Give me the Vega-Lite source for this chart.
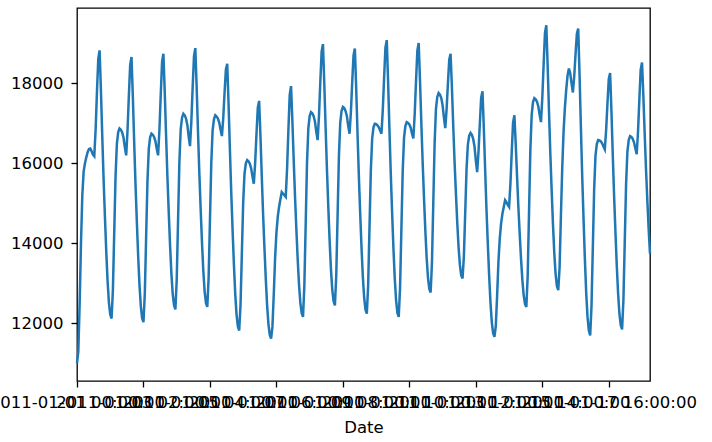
{
"$schema": "https://vega.github.io/schema/vega-lite/v6.json",
"width": 573, "height": 373, "autosize": "none",
"padding": {"left": 77, "top": 8, "right": 62, "bottom": 61},
"background": "white",
"config": {"view": {"stroke": "#000", "strokeWidth": 1.3}, "font": "DejaVu Sans"},
"data": {"values": [
{"Date":"2011-01-01T00:00","Load":11000},{"Date":"2011-01-01T01:00","Load":11300},{"Date":"2011-01-01T02:00","Load":12500},{"Date":"2011-01-01T03:00","Load":14000},{"Date":"2011-01-01T04:00","Load":15200},{"Date":"2011-01-01T05:00","Load":15800},{"Date":"2011-01-01T06:00","Load":16000},{"Date":"2011-01-01T07:00","Load":16150},{"Date":"2011-01-01T08:00","Load":16280},{"Date":"2011-01-01T09:00","Load":16360},{"Date":"2011-01-01T10:00","Load":16370},{"Date":"2011-01-01T11:00","Load":16300},{"Date":"2011-01-01T12:00","Load":16220},{"Date":"2011-01-01T13:00","Load":16180},{"Date":"2011-01-01T14:00","Load":16840},{"Date":"2011-01-01T15:00","Load":17770},{"Date":"2011-01-01T16:00","Load":18610},{"Date":"2011-01-01T17:00","Load":18825},{"Date":"2011-01-01T18:00","Load":17820},{"Date":"2011-01-01T19:00","Load":16680},{"Date":"2011-01-01T20:00","Load":15610},{"Date":"2011-01-01T21:00","Load":14670},{"Date":"2011-01-01T22:00","Load":13800},{"Date":"2011-01-01T23:00","Load":13060},
{"Date":"2011-01-02T00:00","Load":12520},{"Date":"2011-01-02T01:00","Load":12220},{"Date":"2011-01-02T02:00","Load":12120},{"Date":"2011-01-02T03:00","Load":12830},{"Date":"2011-01-02T04:00","Load":14260},{"Date":"2011-01-02T05:00","Load":15680},{"Date":"2011-01-02T06:00","Load":16490},{"Date":"2011-01-02T07:00","Load":16780},{"Date":"2011-01-02T08:00","Load":16870},{"Date":"2011-01-02T09:00","Load":16840},{"Date":"2011-01-02T10:00","Load":16770},{"Date":"2011-01-02T11:00","Load":16640},{"Date":"2011-01-02T12:00","Load":16400},{"Date":"2011-01-02T13:00","Load":16200},{"Date":"2011-01-02T14:00","Load":16820},{"Date":"2011-01-02T15:00","Load":17680},{"Date":"2011-01-02T16:00","Load":18460},{"Date":"2011-01-02T17:00","Load":18660},{"Date":"2011-01-02T18:00","Load":17670},{"Date":"2011-01-02T19:00","Load":16540},{"Date":"2011-01-02T20:00","Load":15480},{"Date":"2011-01-02T21:00","Load":14550},{"Date":"2011-01-02T22:00","Load":13690},{"Date":"2011-01-02T23:00","Load":12960},
{"Date":"2011-01-03T00:00","Load":12430},{"Date":"2011-01-03T01:00","Load":12130},{"Date":"2011-01-03T02:00","Load":12030},{"Date":"2011-01-03T03:00","Load":12740},{"Date":"2011-01-03T04:00","Load":14150},{"Date":"2011-01-03T05:00","Load":15560},{"Date":"2011-01-03T06:00","Load":16360},{"Date":"2011-01-03T07:00","Load":16650},{"Date":"2011-01-03T08:00","Load":16740},{"Date":"2011-01-03T09:00","Load":16710},{"Date":"2011-01-03T10:00","Load":16660},{"Date":"2011-01-03T11:00","Load":16550},{"Date":"2011-01-03T12:00","Load":16360},{"Date":"2011-01-03T13:00","Load":16200},{"Date":"2011-01-03T14:00","Load":16840},{"Date":"2011-01-03T15:00","Load":17720},{"Date":"2011-01-03T16:00","Load":18540},{"Date":"2011-01-03T17:00","Load":18740},{"Date":"2011-01-03T18:00","Load":17780},{"Date":"2011-01-03T19:00","Load":16700},{"Date":"2011-01-03T20:00","Load":15670},{"Date":"2011-01-03T21:00","Load":14780},{"Date":"2011-01-03T22:00","Load":13950},{"Date":"2011-01-03T23:00","Load":13250},
{"Date":"2011-01-04T00:00","Load":12730},{"Date":"2011-01-04T01:00","Load":12450},{"Date":"2011-01-04T02:00","Load":12350},{"Date":"2011-01-04T03:00","Load":13080},{"Date":"2011-01-04T04:00","Load":14550},{"Date":"2011-01-04T05:00","Load":16020},{"Date":"2011-01-04T06:00","Load":16850},{"Date":"2011-01-04T07:00","Load":17140},{"Date":"2011-01-04T08:00","Load":17240},{"Date":"2011-01-04T09:00","Load":17200},{"Date":"2011-01-04T10:00","Load":17120},{"Date":"2011-01-04T11:00","Load":16960},{"Date":"2011-01-04T12:00","Load":16670},{"Date":"2011-01-04T13:00","Load":16430},{"Date":"2011-01-04T14:00","Load":17040},{"Date":"2011-01-04T15:00","Load":17900},{"Date":"2011-01-04T16:00","Load":18680},{"Date":"2011-01-04T17:00","Load":18880},{"Date":"2011-01-04T18:00","Load":17910},{"Date":"2011-01-04T19:00","Load":16810},{"Date":"2011-01-04T20:00","Load":15770},{"Date":"2011-01-04T21:00","Load":14870},{"Date":"2011-01-04T22:00","Load":14030},{"Date":"2011-01-04T23:00","Load":13320},
{"Date":"2011-01-05T00:00","Load":12800},{"Date":"2011-01-05T01:00","Load":12510},{"Date":"2011-01-05T02:00","Load":12410},{"Date":"2011-01-05T03:00","Load":13130},{"Date":"2011-01-05T04:00","Load":14570},{"Date":"2011-01-05T05:00","Load":16000},{"Date":"2011-01-05T06:00","Load":16820},{"Date":"2011-01-05T07:00","Load":17100},{"Date":"2011-01-05T08:00","Load":17200},{"Date":"2011-01-05T09:00","Load":17170},{"Date":"2011-01-05T10:00","Load":17120},{"Date":"2011-01-05T11:00","Load":17020},{"Date":"2011-01-05T12:00","Load":16840},{"Date":"2011-01-05T13:00","Load":16680},{"Date":"2011-01-05T14:00","Load":17130},{"Date":"2011-01-05T15:00","Load":17770},{"Date":"2011-01-05T16:00","Load":18350},{"Date":"2011-01-05T17:00","Load":18490},{"Date":"2011-01-05T18:00","Load":17490},{"Date":"2011-01-05T19:00","Load":16360},{"Date":"2011-01-05T20:00","Load":15290},{"Date":"2011-01-05T21:00","Load":14360},{"Date":"2011-01-05T22:00","Load":13490},{"Date":"2011-01-05T23:00","Load":12750},
{"Date":"2011-01-06T00:00","Load":12220},{"Date":"2011-01-06T01:00","Load":11920},{"Date":"2011-01-06T02:00","Load":11820},{"Date":"2011-01-06T03:00","Load":12460},{"Date":"2011-01-06T04:00","Load":13740},{"Date":"2011-01-06T05:00","Load":15020},{"Date":"2011-01-06T06:00","Load":15740},{"Date":"2011-01-06T07:00","Load":16000},{"Date":"2011-01-06T08:00","Load":16080},{"Date":"2011-01-06T09:00","Load":16050},{"Date":"2011-01-06T10:00","Load":15990},{"Date":"2011-01-06T11:00","Load":15870},{"Date":"2011-01-06T12:00","Load":15670},{"Date":"2011-01-06T13:00","Load":15490},{"Date":"2011-01-06T14:00","Load":16010},{"Date":"2011-01-06T15:00","Load":16730},{"Date":"2011-01-06T16:00","Load":17390},{"Date":"2011-01-06T17:00","Load":17560},{"Date":"2011-01-06T18:00","Load":16670},{"Date":"2011-01-06T19:00","Load":15660},{"Date":"2011-01-06T20:00","Load":14710},{"Date":"2011-01-06T21:00","Load":13880},{"Date":"2011-01-06T22:00","Load":13110},{"Date":"2011-01-06T23:00","Load":12450},
{"Date":"2011-01-07T00:00","Load":11980},{"Date":"2011-01-07T01:00","Load":11710},{"Date":"2011-01-07T02:00","Load":11620},{"Date":"2011-01-07T03:00","Load":11910},{"Date":"2011-01-07T04:00","Load":12720},{"Date":"2011-01-07T05:00","Load":13630},{"Date":"2011-01-07T06:00","Load":14260},{"Date":"2011-01-07T07:00","Load":14660},{"Date":"2011-01-07T08:00","Load":14910},{"Date":"2011-01-07T09:00","Load":15100},{"Date":"2011-01-07T10:00","Load":15280},{"Date":"2011-01-07T11:00","Load":15240},{"Date":"2011-01-07T12:00","Load":15200},{"Date":"2011-01-07T13:00","Load":15160},{"Date":"2011-01-07T14:00","Load":15850},{"Date":"2011-01-07T15:00","Load":16820},{"Date":"2011-01-07T16:00","Load":17710},{"Date":"2011-01-07T17:00","Load":17930},{"Date":"2011-01-07T18:00","Load":17060},{"Date":"2011-01-07T19:00","Load":16080},{"Date":"2011-01-07T20:00","Load":15160},{"Date":"2011-01-07T21:00","Load":14350},{"Date":"2011-01-07T22:00","Load":13600},{"Date":"2011-01-07T23:00","Load":12970},
{"Date":"2011-01-08T00:00","Load":12510},{"Date":"2011-01-08T01:00","Load":12250},{"Date":"2011-01-08T02:00","Load":12160},{"Date":"2011-01-08T03:00","Load":12930},{"Date":"2011-01-08T04:00","Load":14460},{"Date":"2011-01-08T05:00","Load":16000},{"Date":"2011-01-08T06:00","Load":16870},{"Date":"2011-01-08T07:00","Load":17180},{"Date":"2011-01-08T08:00","Load":17280},{"Date":"2011-01-08T09:00","Load":17250},{"Date":"2011-01-08T10:00","Load":17180},{"Date":"2011-01-08T11:00","Load":17040},{"Date":"2011-01-08T12:00","Load":16790},{"Date":"2011-01-08T13:00","Load":16580},{"Date":"2011-01-08T14:00","Load":17180},{"Date":"2011-01-08T15:00","Load":18020},{"Date":"2011-01-08T16:00","Load":18790},{"Date":"2011-01-08T17:00","Load":18980},{"Date":"2011-01-08T18:00","Load":18000},{"Date":"2011-01-08T19:00","Load":16890},{"Date":"2011-01-08T20:00","Load":15850},{"Date":"2011-01-08T21:00","Load":14930},{"Date":"2011-01-08T22:00","Load":14080},{"Date":"2011-01-08T23:00","Load":13360},
{"Date":"2011-01-09T00:00","Load":12840},{"Date":"2011-01-09T01:00","Load":12550},{"Date":"2011-01-09T02:00","Load":12450},{"Date":"2011-01-09T03:00","Load":13190},{"Date":"2011-01-09T04:00","Load":14680},{"Date":"2011-01-09T05:00","Load":16170},{"Date":"2011-01-09T06:00","Load":17010},{"Date":"2011-01-09T07:00","Load":17310},{"Date":"2011-01-09T08:00","Load":17410},{"Date":"2011-01-09T09:00","Load":17380},{"Date":"2011-01-09T10:00","Load":17310},{"Date":"2011-01-09T11:00","Load":17180},{"Date":"2011-01-09T12:00","Load":16940},{"Date":"2011-01-09T13:00","Load":16740},{"Date":"2011-01-09T14:00","Load":17270},{"Date":"2011-01-09T15:00","Load":18020},{"Date":"2011-01-09T16:00","Load":18700},{"Date":"2011-01-09T17:00","Load":18870},{"Date":"2011-01-09T18:00","Load":17880},{"Date":"2011-01-09T19:00","Load":16750},{"Date":"2011-01-09T20:00","Load":15690},{"Date":"2011-01-09T21:00","Load":14760},{"Date":"2011-01-09T22:00","Load":13900},{"Date":"2011-01-09T23:00","Load":13170},
{"Date":"2011-01-10T00:00","Load":12640},{"Date":"2011-01-10T01:00","Load":12340},{"Date":"2011-01-10T02:00","Load":12240},{"Date":"2011-01-10T03:00","Load":12950},{"Date":"2011-01-10T04:00","Load":14380},{"Date":"2011-01-10T05:00","Load":15800},{"Date":"2011-01-10T06:00","Load":16610},{"Date":"2011-01-10T07:00","Load":16900},{"Date":"2011-01-10T08:00","Load":16990},{"Date":"2011-01-10T09:00","Load":16980},{"Date":"2011-01-10T10:00","Load":16950},{"Date":"2011-01-10T11:00","Load":16900},{"Date":"2011-01-10T12:00","Load":16820},{"Date":"2011-01-10T13:00","Load":16740},{"Date":"2011-01-10T14:00","Load":17330},{"Date":"2011-01-10T15:00","Load":18140},{"Date":"2011-01-10T16:00","Load":18890},{"Date":"2011-01-10T17:00","Load":19080},{"Date":"2011-01-10T18:00","Load":18040},{"Date":"2011-01-10T19:00","Load":16870},{"Date":"2011-01-10T20:00","Load":15760},{"Date":"2011-01-10T21:00","Load":14790},{"Date":"2011-01-10T22:00","Load":13890},{"Date":"2011-01-10T23:00","Load":13130},
{"Date":"2011-01-11T00:00","Load":12580},{"Date":"2011-01-11T01:00","Load":12260},{"Date":"2011-01-11T02:00","Load":12160},{"Date":"2011-01-11T03:00","Load":12890},{"Date":"2011-01-11T04:00","Load":14350},{"Date":"2011-01-11T05:00","Load":15810},{"Date":"2011-01-11T06:00","Load":16640},{"Date":"2011-01-11T07:00","Load":16930},{"Date":"2011-01-11T08:00","Load":17030},{"Date":"2011-01-11T09:00","Load":17010},{"Date":"2011-01-11T10:00","Load":16970},{"Date":"2011-01-11T11:00","Load":16890},{"Date":"2011-01-11T12:00","Load":16740},{"Date":"2011-01-11T13:00","Load":16620},{"Date":"2011-01-11T14:00","Load":17220},{"Date":"2011-01-11T15:00","Load":18050},{"Date":"2011-01-11T16:00","Load":18820},{"Date":"2011-01-11T17:00","Load":19010},{"Date":"2011-01-11T18:00","Load":18070},{"Date":"2011-01-11T19:00","Load":17010},{"Date":"2011-01-11T20:00","Load":16020},{"Date":"2011-01-11T21:00","Load":15140},{"Date":"2011-01-11T22:00","Load":14330},{"Date":"2011-01-11T23:00","Load":13640},
{"Date":"2011-01-12T00:00","Load":13140},{"Date":"2011-01-12T01:00","Load":12860},{"Date":"2011-01-12T02:00","Load":12770},{"Date":"2011-01-12T03:00","Load":13520},{"Date":"2011-01-12T04:00","Load":15020},{"Date":"2011-01-12T05:00","Load":16510},{"Date":"2011-01-12T06:00","Load":17360},{"Date":"2011-01-12T07:00","Load":17660},{"Date":"2011-01-12T08:00","Load":17760},{"Date":"2011-01-12T09:00","Load":17720},{"Date":"2011-01-12T10:00","Load":17630},{"Date":"2011-01-12T11:00","Load":17450},{"Date":"2011-01-12T12:00","Load":17140},{"Date":"2011-01-12T13:00","Load":16880},{"Date":"2011-01-12T14:00","Load":17350},{"Date":"2011-01-12T15:00","Load":18000},{"Date":"2011-01-12T16:00","Load":18590},{"Date":"2011-01-12T17:00","Load":18740},{"Date":"2011-01-12T18:00","Load":17900},{"Date":"2011-01-12T19:00","Load":16940},{"Date":"2011-01-12T20:00","Load":16040},{"Date":"2011-01-12T21:00","Load":15260},{"Date":"2011-01-12T22:00","Load":14530},{"Date":"2011-01-12T23:00","Load":13910},
{"Date":"2011-01-13T00:00","Load":13460},{"Date":"2011-01-13T01:00","Load":13200},{"Date":"2011-01-13T02:00","Load":13120},{"Date":"2011-01-13T03:00","Load":13670},{"Date":"2011-01-13T04:00","Load":14760},{"Date":"2011-01-13T05:00","Load":15850},{"Date":"2011-01-13T06:00","Load":16470},{"Date":"2011-01-13T07:00","Load":16690},{"Date":"2011-01-13T08:00","Load":16760},{"Date":"2011-01-13T09:00","Load":16710},{"Date":"2011-01-13T10:00","Load":16610},{"Date":"2011-01-13T11:00","Load":16420},{"Date":"2011-01-13T12:00","Load":16070},{"Date":"2011-01-13T13:00","Load":15780},{"Date":"2011-01-13T14:00","Load":16290},{"Date":"2011-01-13T15:00","Load":16990},{"Date":"2011-01-13T16:00","Load":17640},{"Date":"2011-01-13T17:00","Load":17800},{"Date":"2011-01-13T18:00","Load":16880},{"Date":"2011-01-13T19:00","Load":15840},{"Date":"2011-01-13T20:00","Load":14850},{"Date":"2011-01-13T21:00","Load":13990},{"Date":"2011-01-13T22:00","Load":13200},{"Date":"2011-01-13T23:00","Load":12520},
{"Date":"2011-01-14T00:00","Load":12030},{"Date":"2011-01-14T01:00","Load":11750},{"Date":"2011-01-14T02:00","Load":11660},{"Date":"2011-01-14T03:00","Load":11930},{"Date":"2011-01-14T04:00","Load":12690},{"Date":"2011-01-14T05:00","Load":13540},{"Date":"2011-01-14T06:00","Load":14120},{"Date":"2011-01-14T07:00","Load":14500},{"Date":"2011-01-14T08:00","Load":14740},{"Date":"2011-01-14T09:00","Load":14910},{"Date":"2011-01-14T10:00","Load":15080},{"Date":"2011-01-14T11:00","Load":15030},{"Date":"2011-01-14T12:00","Load":14960},{"Date":"2011-01-14T13:00","Load":14910},{"Date":"2011-01-14T14:00","Load":15480},{"Date":"2011-01-14T15:00","Load":16280},{"Date":"2011-01-14T16:00","Load":17020},{"Date":"2011-01-14T17:00","Load":17200},{"Date":"2011-01-14T18:00","Load":16480},{"Date":"2011-01-14T19:00","Load":15670},{"Date":"2011-01-14T20:00","Load":14900},{"Date":"2011-01-14T21:00","Load":14230},{"Date":"2011-01-14T22:00","Load":13610},{"Date":"2011-01-14T23:00","Load":13080},
{"Date":"2011-01-15T00:00","Load":12700},{"Date":"2011-01-15T01:00","Load":12480},{"Date":"2011-01-15T02:00","Load":12410},{"Date":"2011-01-15T03:00","Load":13190},{"Date":"2011-01-15T04:00","Load":14760},{"Date":"2011-01-15T05:00","Load":16330},{"Date":"2011-01-15T06:00","Load":17210},{"Date":"2011-01-15T07:00","Load":17530},{"Date":"2011-01-15T08:00","Load":17630},{"Date":"2011-01-15T09:00","Load":17600},{"Date":"2011-01-15T10:00","Load":17540},{"Date":"2011-01-15T11:00","Load":17420},{"Date":"2011-01-15T12:00","Load":17210},{"Date":"2011-01-15T13:00","Load":17030},{"Date":"2011-01-15T14:00","Load":17640},{"Date":"2011-01-15T15:00","Load":18480},{"Date":"2011-01-15T16:00","Load":19260},{"Date":"2011-01-15T17:00","Load":19450},{"Date":"2011-01-15T18:00","Load":18460},{"Date":"2011-01-15T19:00","Load":17330},{"Date":"2011-01-15T20:00","Load":16270},{"Date":"2011-01-15T21:00","Load":15350},{"Date":"2011-01-15T22:00","Load":14490},{"Date":"2011-01-15T23:00","Load":13760},
{"Date":"2011-01-16T00:00","Load":13230},{"Date":"2011-01-16T01:00","Load":12930},{"Date":"2011-01-16T02:00","Load":12830},{"Date":"2011-01-16T03:00","Load":13400},{"Date":"2011-01-16T04:00","Load":14700},{"Date":"2011-01-16T05:00","Load":15900},{"Date":"2011-01-16T06:00","Load":16800},{"Date":"2011-01-16T07:00","Load":17400},{"Date":"2011-01-16T08:00","Load":17850},{"Date":"2011-01-16T09:00","Load":18200},{"Date":"2011-01-16T10:00","Load":18370},{"Date":"2011-01-16T11:00","Load":18250},{"Date":"2011-01-16T12:00","Load":18000},{"Date":"2011-01-16T13:00","Load":17770},{"Date":"2011-01-16T14:00","Load":18170},{"Date":"2011-01-16T15:00","Load":18730},{"Date":"2011-01-16T16:00","Load":19240},{"Date":"2011-01-16T17:00","Load":19370},{"Date":"2011-01-16T18:00","Load":18220},{"Date":"2011-01-16T19:00","Load":16920},{"Date":"2011-01-16T20:00","Load":15690},{"Date":"2011-01-16T21:00","Load":14620},{"Date":"2011-01-16T22:00","Load":13620},{"Date":"2011-01-16T23:00","Load":12770},
{"Date":"2011-01-17T00:00","Load":12160},{"Date":"2011-01-17T01:00","Load":11820},{"Date":"2011-01-17T02:00","Load":11700},{"Date":"2011-01-17T03:00","Load":12430},{"Date":"2011-01-17T04:00","Load":13900},{"Date":"2011-01-17T05:00","Load":15360},{"Date":"2011-01-17T06:00","Load":16190},{"Date":"2011-01-17T07:00","Load":16480},{"Date":"2011-01-17T08:00","Load":16580},{"Date":"2011-01-17T09:00","Load":16570},{"Date":"2011-01-17T10:00","Load":16550},{"Date":"2011-01-17T11:00","Load":16500},{"Date":"2011-01-17T12:00","Load":16420},{"Date":"2011-01-17T13:00","Load":16350},{"Date":"2011-01-17T14:00","Load":16830},{"Date":"2011-01-17T15:00","Load":17500},{"Date":"2011-01-17T16:00","Load":18110},{"Date":"2011-01-17T17:00","Load":18260},{"Date":"2011-01-17T18:00","Load":17300},{"Date":"2011-01-17T19:00","Load":16210},{"Date":"2011-01-17T20:00","Load":15180},{"Date":"2011-01-17T21:00","Load":14290},{"Date":"2011-01-17T22:00","Load":13450},{"Date":"2011-01-17T23:00","Load":12750},
{"Date":"2011-01-18T00:00","Load":12240},{"Date":"2011-01-18T01:00","Load":11950},{"Date":"2011-01-18T02:00","Load":11850},{"Date":"2011-01-18T03:00","Load":12580},{"Date":"2011-01-18T04:00","Load":14020},{"Date":"2011-01-18T05:00","Load":15470},{"Date":"2011-01-18T06:00","Load":16290},{"Date":"2011-01-18T07:00","Load":16580},{"Date":"2011-01-18T08:00","Load":16680},{"Date":"2011-01-18T09:00","Load":16660},{"Date":"2011-01-18T10:00","Load":16610},{"Date":"2011-01-18T11:00","Load":16520},{"Date":"2011-01-18T12:00","Load":16370},{"Date":"2011-01-18T13:00","Load":16230},{"Date":"2011-01-18T14:00","Load":16800},{"Date":"2011-01-18T15:00","Load":17600},{"Date":"2011-01-18T16:00","Load":18340},{"Date":"2011-01-18T17:00","Load":18520},{"Date":"2011-01-18T18:00","Load":17690},{"Date":"2011-01-18T19:00","Load":16740},{"Date":"2011-01-18T20:00","Load":15850},{"Date":"2011-01-18T21:00","Load":15070},{"Date":"2011-01-18T22:00","Load":14350},{"Date":"2011-01-18T23:00","Load":13740}
]},
"mark": {"type": "line", "color": "#1f77b4", "strokeWidth": 2.5},
"encoding": {
"x": {"field": "Date", "type": "temporal",
 "scale": {"nice": false, "padding": 0},
 "axis": {"title": "Date", "grid": false, "domain": false,
  "values": [{"year":2011,"month":1,"date":1,"hours":0},{"year":2011,"month":1,"date":3,"hours":2},{"year":2011,"month":1,"date":5,"hours":4},{"year":2011,"month":1,"date":7,"hours":6},{"year":2011,"month":1,"date":9,"hours":8},{"year":2011,"month":1,"date":11,"hours":10},{"year":2011,"month":1,"date":13,"hours":12},{"year":2011,"month":1,"date":15,"hours":14},{"year":2011,"month":1,"date":17,"hours":16}],
  "format": "%Y-%m-%d %H:%M:%S", "labelOverlap": false, "labelFlush": false, "labelBound": false,
  "tickColor": "#000", "tickSize": 6, "tickWidth": 1.3, "labelFontSize": 16.5, "labelColor": "#000", "labelPadding": 7,
  "titleFontSize": 16.5, "titleFontWeight": "normal", "titleColor": "#000", "titlePadding": 9}},
"y": {"field": "Load", "type": "quantitative",
 "scale": {"domain": [10558, 19883], "nice": false, "zero": false},
 "axis": {"title": null, "grid": false, "domain": false, "values": [12000, 14000, 16000, 18000], "format": "d",
  "tickColor": "#000", "tickSize": 6, "tickWidth": 1.3, "labelFontSize": 16.5, "labelColor": "#000", "labelPadding": 8}}
}
}
